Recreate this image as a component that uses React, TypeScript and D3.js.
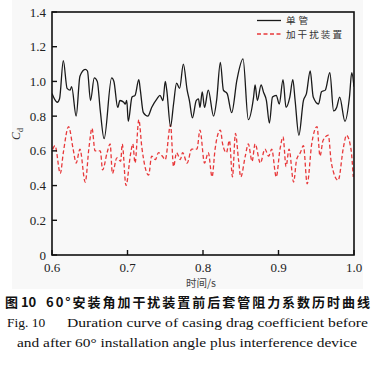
import React from "react";
import * as d3 from "d3";

// single tube (black solid)
const singleT = [0.6, 0.607, 0.61, 0.615, 0.62, 0.624, 0.626, 0.632, 0.637, 0.644, 0.647, 0.651, 0.656, 0.66, 0.664, 0.669, 0.679, 0.682, 0.687, 0.69, 0.695, 0.697, 0.699, 0.701, 0.706, 0.71, 0.715, 0.717, 0.721, 0.727, 0.732, 0.739, 0.743, 0.747, 0.75, 0.752, 0.757, 0.761, 0.765, 0.769, 0.774, 0.779, 0.782, 0.786, 0.791, 0.794, 0.796, 0.799, 0.802, 0.807, 0.814, 0.818, 0.823, 0.827, 0.832, 0.838, 0.845, 0.853, 0.86, 0.867, 0.869, 0.872, 0.877, 0.88, 0.884, 0.888, 0.892, 0.897, 0.901, 0.906, 0.91, 0.915, 0.919, 0.922, 0.927, 0.933, 0.937, 0.942, 0.946, 0.953, 0.957, 0.962, 0.968, 0.973, 0.977, 0.981, 0.988, 0.994, 0.997, 1.0];
const singleCd = [0.93, 0.88, 0.9, 1.12, 0.96, 0.95, 0.97, 0.8, 1.03, 1.07, 1.06, 0.89, 1.02, 1.0, 0.83, 0.67, 1.02, 1.0, 0.85, 0.89, 0.88, 0.87, 0.89, 0.77, 0.91, 0.92, 1.01, 0.95, 0.82, 0.8, 0.85, 0.9, 0.92, 0.89, 1.0, 0.95, 0.74, 0.87, 0.99, 0.96, 1.1, 0.95, 0.89, 0.79, 0.89, 0.9, 0.85, 0.94, 0.85, 0.95, 0.8, 0.89, 1.11, 0.95, 0.93, 0.82, 1.01, 1.13, 0.78, 0.91, 0.98, 0.89, 0.98, 0.94, 0.89, 0.76, 0.91, 0.92, 0.87, 1.01, 0.85, 0.91, 1.01, 0.89, 0.69, 0.89, 0.93, 1.06, 0.91, 0.87, 0.94, 0.95, 1.05, 0.83, 0.85, 0.91, 0.77, 0.91, 1.05, 0.97];

// with interference device (red dashed)
const deviceT = [0.601, 0.604, 0.611, 0.615, 0.622, 0.628, 0.632, 0.637, 0.644, 0.649, 0.653, 0.657, 0.664, 0.667, 0.673, 0.677, 0.68, 0.686, 0.691, 0.693, 0.698, 0.704, 0.707, 0.71, 0.715, 0.719, 0.728, 0.732, 0.737, 0.741, 0.746, 0.75, 0.757, 0.761, 0.765, 0.77, 0.773, 0.779, 0.785, 0.792, 0.796, 0.802, 0.807, 0.812, 0.816, 0.823, 0.826, 0.831, 0.835, 0.839, 0.843, 0.847, 0.85, 0.856, 0.86, 0.865, 0.869, 0.876, 0.882, 0.887, 0.891, 0.897, 0.902, 0.906, 0.91, 0.914, 0.92, 0.924, 0.929, 0.933, 0.938, 0.944, 0.951, 0.955, 0.959, 0.966, 0.97, 0.979, 0.986, 0.99, 0.996, 0.999];
const deviceCd = [0.61, 0.63, 0.47, 0.59, 0.74, 0.61, 0.53, 0.61, 0.42, 0.62, 0.73, 0.6, 0.6, 0.49, 0.59, 0.64, 0.47, 0.56, 0.54, 0.64, 0.4, 0.58, 0.64, 0.53, 0.78, 0.62, 0.46, 0.57, 0.55, 0.59, 0.57, 0.55, 0.75, 0.51, 0.59, 0.55, 0.59, 0.53, 0.61, 0.61, 0.72, 0.53, 0.59, 0.45, 0.61, 0.72, 0.64, 0.59, 0.66, 0.45, 0.7, 0.55, 0.45, 0.57, 0.64, 0.54, 0.64, 0.53, 0.61, 0.57, 0.61, 0.45, 0.61, 0.68, 0.51, 0.61, 0.42, 0.55, 0.59, 0.63, 0.41, 0.64, 0.74, 0.57, 0.66, 0.69, 0.53, 0.43, 0.62, 0.69, 0.61, 0.45];

const xTicks = [0.6, 0.7, 0.8, 0.9, 1.0];
const yTicks = [0, 0.2, 0.4, 0.6, 0.8, 1.0, 1.2, 1.4];
const legendLabels = ["单管", "加干扰装置"];

const W = 376;
const H = 374;
const M = { left: 52, right: 354, top: 12, bottom: 255 };

export default function App() {
  const x = d3.scaleLinear().domain([0.6, 1.0]).range([M.left, M.right]);
  const y = d3.scaleLinear().domain([0, 1.4]).range([M.bottom, M.top]);

  // smooth curve through the read-off extrema
  const mk = (ts: number[], vs: number[]) =>
    d3
      .line<number>()
      .x((t) => x(t))
      .y((_, i) => y(vs[i]))
      .curve(d3.curveMonotoneX)(ts) || "";

  const serif = "Liberation Serif";
  const cjk = "Noto Sans CJK SC";

  return (
    <svg width={W} height={H} style={{ position: "absolute", left: 0, top: 0, background: "#fff" }}>
      <rect x={12} y={0} width={351} height={289} fill="#f8f8f8" />

      <defs>
        <clipPath id="plot">
          <rect x={M.left} y={M.top} width={M.right - M.left} height={M.bottom - M.top} />
        </clipPath>
      </defs>

      <g clipPath="url(#plot)">
        <path d={mk(deviceT, deviceCd)} fill="none" stroke="#e8383a" strokeWidth={1.3} strokeDasharray="4,2.5" />
        <path d={mk(singleT, singleCd)} fill="none" stroke="#1a1a1a" strokeWidth={1.3} />
      </g>

      {/* frame */}
      <rect x={M.left} y={M.top} width={M.right - M.left} height={M.bottom - M.top} fill="none" stroke="#111" strokeWidth={1.6} />

      {/* x ticks */}
      {xTicks.map((t) => (
        <g key={t}>
          <line x1={x(t)} x2={x(t)} y1={M.bottom} y2={M.bottom - 5} stroke="#111" strokeWidth={1.4} />
          <text x={x(t)} y={272} textAnchor="middle" fontFamily={serif} fontSize={13} fill="#222">
            {t.toFixed(1)}
          </text>
        </g>
      ))}

      {/* y ticks */}
      {yTicks.map((v) => (
        <g key={v}>
          <line x1={M.left} x2={M.left + 5} y1={y(v)} y2={y(v)} stroke="#111" strokeWidth={1.4} />
          <text x={46} y={y(v) + 4.5} textAnchor="end" fontFamily={serif} fontSize={13} fill="#222">
            {v === 0 ? "0" : v.toFixed(1)}
          </text>
        </g>
      ))}

      {/* axis labels */}
      <text transform="translate(20,134) rotate(-90)" textAnchor="middle" fontFamily={serif} fontSize={12} fill="#333">
        <tspan fontStyle="italic">C</tspan>
        <tspan fontSize={8} dy={3}>d</tspan>
      </text>
      <text x={201} y={287} textAnchor="middle" fontFamily={cjk} fontSize={10.5} fill="#444">
        时间/s
      </text>

      {/* legend */}
      <line x1={257} x2={281} y1={20.5} y2={20.5} stroke="#1a1a1a" strokeWidth={1.3} />
      <line x1={257} x2={281} y1={34} y2={34} stroke="#e8383a" strokeWidth={1.3} strokeDasharray="4,2.5" />
      <text x={286} y={24} fontFamily={cjk} fontSize={9.6} fill="#333" textLength={22}>{legendLabels[0]}</text>
      <text x={286} y={37.8} fontFamily={cjk} fontSize={9.6} fill="#333" textLength={56}>{legendLabels[1]}</text>

      {/* caption */}
      <text x={5} y={307} fontFamily={cjk} fontWeight="bold" fontSize={13} fill="#111">
        图 10
      </text>
      <text x={46} y={307} fontFamily={cjk} fontWeight="bold" fontSize={13} fill="#111" textLength={324} lengthAdjust="spacing">
        60°安装角加干扰装置前后套管阻力系数历时曲线
      </text>
      <text x={7} y={327} fontFamily={serif} fontSize={13.5} fill="#111">
        Fig. 10
      </text>
      <text x={67} y={327} fontFamily={serif} fontSize={13.5} fill="#111" textLength={301} lengthAdjust="spacingAndGlyphs">
        Duration curve of casing drag coefficient before
      </text>
      <text x={17} y={347} fontFamily={serif} fontSize={13.5} fill="#111" textLength={340} lengthAdjust="spacingAndGlyphs">
        and after 60° installation angle plus interference device
      </text>
    </svg>
  );
}
